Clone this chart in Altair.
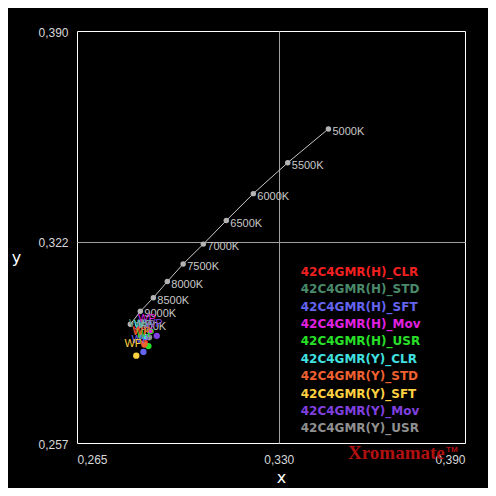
import altair as alt
import pandas as pd

# Daylight locus points (CCT labels and chromaticity)
cct_labels = ["5000K", "5500K", "6000K", "6500K", "7000K", "7500K", "8000K", "8500K", "9000K", "9500K"]
cct_x = [0.3460, 0.3329, 0.3218, 0.3131, 0.3057, 0.2992, 0.2941, 0.2896, 0.2854, 0.2822]
cct_y = [0.3584, 0.3475, 0.3375, 0.3288, 0.3212, 0.3148, 0.3091, 0.3039, 0.2995, 0.2953]

# Measured white points
series = ["42C4GMR(H)_CLR", "42C4GMR(H)_STD", "42C4GMR(H)_SFT", "42C4GMR(H)_Mov", "42C4GMR(H)_USR",
          "42C4GMR(Y)_CLR", "42C4GMR(Y)_STD", "42C4GMR(Y)_SFT", "42C4GMR(Y)_Mov", "42C4GMR(Y)_USR"]
colors = ["#f02020", "#4a8a6a", "#6464f0", "#e020e0", "#28e028",
          "#40e0e0", "#f06030", "#ffd040", "#8040e0", "#909090"]
wp_x = [0.2869, 0.2856, 0.2864, 0.2885, 0.2880, 0.2872, 0.2867, 0.2841, 0.2907, 0.2882]
wp_y = [0.2893, 0.2915, 0.2864, 0.2932, 0.2883, 0.2912, 0.2888, 0.2852, 0.2916, 0.2911]

x_ticks = [0.265, 0.330, 0.390]
y_ticks = [0.257, 0.322, 0.390]

cct = pd.DataFrame({"label": cct_labels, "x": cct_x, "y": cct_y, "order": list(range(len(cct_labels)))})
wp = pd.DataFrame({"series": series, "x": wp_x, "y": wp_y, "label": ["WP"] * len(series)})
leg = pd.DataFrame({"series": series})

xs = alt.Scale(domain=[0.265, 0.390], zero=False, nice=False)
ys = alt.Scale(domain=[0.257, 0.390], zero=False, nice=False)
cs = alt.Scale(domain=series, range=colors)

X = alt.X("x:Q", scale=xs, axis=alt.Axis(
    values=x_ticks, title="x",
    labelExpr="replace(format(datum.value, '.3f'), '.', ',')",
    gridColor=alt.condition("abs(datum.value - 0.33) < 0.0001", alt.value("#a0a0a0"), alt.value("transparent")),
    labelPadding=11, titleX=204, titleY=39, titleAlign="center", titleBaseline="alphabetic"))
Y = alt.Y("y:Q", scale=ys, axis=alt.Axis(
    values=y_ticks, title="y",
    labelExpr="replace(format(datum.value, '.3f'), '.', ',')",
    gridColor=alt.condition("abs(datum.value - 0.322) < 0.0001", alt.value("#a0a0a0"), alt.value("transparent")),
    labelPadding=9, labelOffset=1, titleAngle=0, titleX=-61, titleY=231, titleAlign="center", titleBaseline="alphabetic"))

line = alt.Chart(cct).mark_line(color="#c8c8c8", strokeWidth=1).encode(x=X, y=Y, order="order:Q")
pts = alt.Chart(cct).mark_circle(color="#b4b4b4", size=30, opacity=1).encode(x="x:Q", y="y:Q")
lbl = alt.Chart(cct).mark_text(align="left", baseline="middle", dx=4, dy=3, color="#c8c8c8",
                               font="Liberation Sans", fontSize=11).encode(x="x:Q", y="y:Q", text="label:N")

wp_pts = alt.Chart(wp).mark_circle(size=40, opacity=1).encode(
    x="x:Q", y="y:Q", color=alt.Color("series:N", scale=cs, legend=None))
wp_lbl = alt.Chart(wp).mark_text(align="center", baseline="middle", dx=-3, dy=-12,
                                 font="Liberation Sans", fontSize=11).encode(
    x="x:Q", y="y:Q", text="label:N", color=alt.Color("series:N", scale=cs, legend=None))

main = alt.layer(line, pts, lbl, wp_pts, wp_lbl)

legend_txt = alt.Chart(leg).mark_text(align="left", baseline="middle", font="DejaVu Sans",
                                      fontSize=12, fontWeight="bold").encode(
    x=alt.value(223.7),
    y=alt.Y("series:N", scale=alt.Scale(domain=series, range=[240.7, 397.3], padding=0), axis=None),
    text="series:N",
    color=alt.Color("series:N", scale=cs, legend=None))

mark_txt = alt.Chart(pd.DataFrame({"t": ["Xromamate"]})).mark_text(
    align="left", baseline="alphabetic", font="Liberation Serif", fontSize=19, fontWeight="bold",
    color="#b01010").encode(x=alt.value(271), y=alt.value(428), text="t:N")
tm_txt = alt.Chart(pd.DataFrame({"t": ["TM"]})).mark_text(
    align="left", baseline="alphabetic", font="Liberation Sans", fontSize=8, fontWeight="bold",
    color="#b01010").encode(x=alt.value(369), y=alt.value(421), text="t:N")

chart = alt.layer(main, legend_txt, mark_txt, tm_txt).resolve_scale(y="independent").properties(
    width=388, height=412,
    autosize=alt.AutoSizeParams(type="none"),
    padding={"left": 69, "top": 23, "right": 23, "bottom": 45},
    background="black",
).configure_view(fill="black", stroke="white", strokeWidth=1).configure_axis(
    labelColor="#d8d8d8", labelFont="Liberation Sans", labelFontSize=12,
    tickSize=0, domain=False, grid=True, gridWidth=1,
    titleColor="white", titleFont="DejaVu Sans", titleFontSize=16, titleFontWeight="normal",
)

chart.save("out.html", embed_options={"renderer": "svg", "actions": False})
